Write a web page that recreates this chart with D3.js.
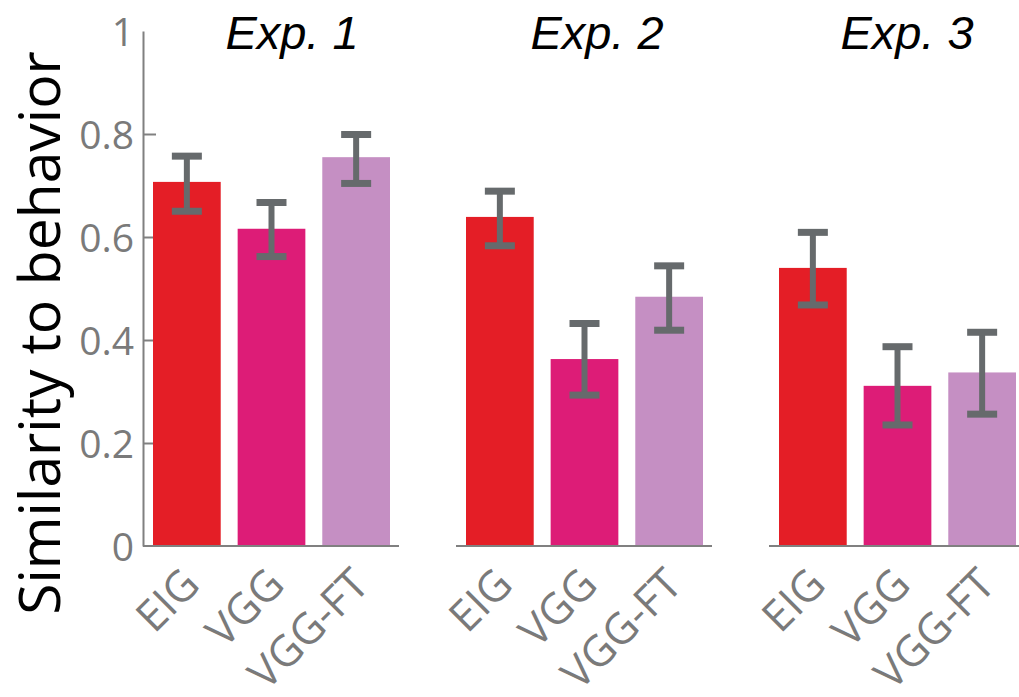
<!DOCTYPE html>
<html>
<head>
<meta charset="utf-8">
<script src="https://cdn.jsdelivr.net/npm/d3@7"></script>
<style>
  html, body { margin: 0; padding: 0; background: #fff; }
  svg { display: block; }
</style>
</head>
<body>
<svg id="chart" width="1019" height="697"></svg>
<script>
// ---- data ----
const experiments = ["Exp. 1", "Exp. 2", "Exp. 3"];
const models = ["EIG", "VGG", "VGG-FT"];
const exp1Values = [0.707, 0.616, 0.755];
const exp2Values = [0.639, 0.363, 0.484];
const exp3Values = [0.540, 0.311, 0.337];
const exp1Upper = [0.757, 0.667, 0.799];
const exp2Upper = [0.689, 0.432, 0.544];
const exp3Upper = [0.609, 0.387, 0.415];
const exp1Lower = [0.650, 0.562, 0.704];
const exp2Lower = [0.583, 0.293, 0.419];
const exp3Lower = [0.468, 0.235, 0.256];
const yTickValues = [0, 0.2, 0.4, 0.6, 0.8, 1];
const yTickLabels = ["0", "0.2", "0.4", "0.6", "0.8", "1"];
const yLabel = "Similarity to behavior";

// ---- style / layout ----
const colors = ["#e41e26", "#dd1c77", "#c58fc3"];
const axisColor = "#808080";
const textGray = "#7a7a7a";
const errColor = "#666a6c";
const titleDx = [21, 13, 10];

const values = [exp1Values, exp2Values, exp3Values];
const uppers = [exp1Upper, exp2Upper, exp3Upper];
const lowers = [exp1Lower, exp2Lower, exp3Lower];

const svg = d3.select("#chart");
const y = d3.scaleLinear().domain([0, 1]).range([546, 31]);
const panelX = d3.scaleBand().domain(experiments).range([143, 143 + 313 * 3]);
const axisLen = 256;
const x = d3.scaleBand().domain(models).range([10, 247]).paddingInner(0.2).paddingOuter(0);

// y axis
const yAxis = d3.axisLeft(y)
  .tickValues(yTickValues)
  .tickFormat((d, i) => yTickLabels[i])
  .tickSizeInner(-13)
  .tickSizeOuter(0)
  .tickPadding(9);
const ya = svg.append("g").attr("transform", `translate(${panelX(experiments[0])},0)`).call(yAxis);
ya.select(".domain").attr("stroke", axisColor).attr("stroke-width", 2);
ya.selectAll(".tick line").attr("stroke", axisColor).attr("stroke-width", 2)
  .attr("display", d => (d === 0 || d === 1) ? "none" : null);
ya.selectAll(".tick text")
  .attr("fill", textGray)
  .style("font-family", "'Open Sans', sans-serif")
  .style("font-size", "39px")
  .attr("dy", "0.36em");

// y label
svg.append("text")
  .attr("transform", `translate(60,333) rotate(-90)`)
  .attr("text-anchor", "middle")
  .style("font-family", "'Open Sans', sans-serif")
  .style("font-size", "57px")
  .attr("fill", "#000")
  .text(yLabel);

experiments.forEach((exp, ei) => {
  const g = svg.append("g").attr("transform", `translate(${panelX(exp)},0)`);
  const rows = models.map((m, i) => ({ m, i, v: values[ei][i], hi: uppers[ei][i], lo: lowers[ei][i] }));

  g.selectAll("rect.bar").data(rows).enter().append("rect")
    .attr("class", "bar")
    .attr("x", d => x(d.m))
    .attr("width", x.bandwidth())
    .attr("y", d => y(d.v))
    .attr("height", d => y(0) - y(d.v))
    .attr("fill", d => colors[d.i]);

  // x axis baseline
  g.append("line")
    .attr("x1", 0).attr("x2", axisLen)
    .attr("y1", y(0)).attr("y2", y(0))
    .attr("stroke", axisColor).attr("stroke-width", 2);

  // error bars
  const eb = g.selectAll("g.err").data(rows).enter().append("g").attr("class", "err");
  const cx = d => x(d.m) + x.bandwidth() / 2;
  const capW = 30;
  eb.append("line")
    .attr("x1", cx).attr("x2", cx)
    .attr("y1", d => y(d.hi)).attr("y2", d => y(d.lo))
    .attr("stroke", errColor).attr("stroke-width", 6);
  eb.append("line")
    .attr("x1", d => cx(d) - capW / 2).attr("x2", d => cx(d) + capW / 2)
    .attr("y1", d => y(d.hi)).attr("y2", d => y(d.hi))
    .attr("stroke", errColor).attr("stroke-width", 7);
  eb.append("line")
    .attr("x1", d => cx(d) - capW / 2).attr("x2", d => cx(d) + capW / 2)
    .attr("y1", d => y(d.lo)).attr("y2", d => y(d.lo))
    .attr("stroke", errColor).attr("stroke-width", 7);

  // x labels
  g.selectAll("text.xl").data(rows).enter().append("text")
    .attr("class", "xl")
    .attr("transform", d => `translate(${cx(d) + 15},587) rotate(-45)`)
    .attr("text-anchor", "end")
    .attr("fill", textGray)
    .style("font-family", "'Open Sans', sans-serif")
    .style("font-size", "43px")
    .text(d => d.m);

  // title
  g.append("text")
    .attr("x", axisLen / 2 + titleDx[ei])
    .attr("y", 49)
    .attr("text-anchor", "middle")
    .style("font-family", "'Liberation Sans', Arial, sans-serif")
    .style("font-style", "italic")
    .style("font-size", "47px")
    .attr("fill", "#000")
    .text(exp);
});
</script>
</body>
</html>
